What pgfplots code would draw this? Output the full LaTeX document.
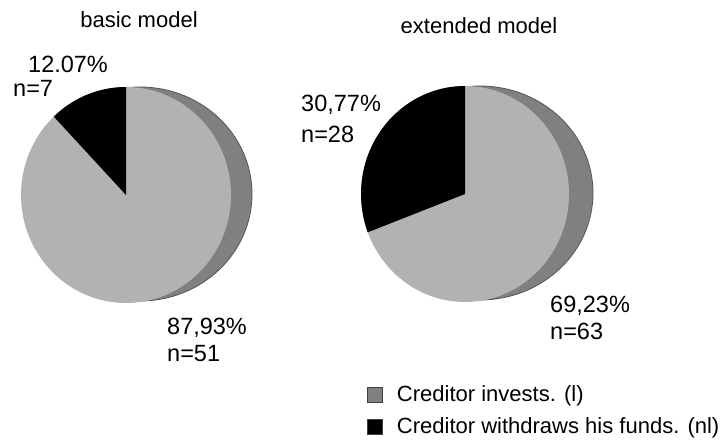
\documentclass[border=0pt]{standalone}
\usepackage{pgfplots}
\pgfplotsset{compat=1.18}
\usepackage{fontspec}
\setmainfont{Liberation Sans}

\definecolor{face}{RGB}{178,178,178}
\definecolor{side}{RGB}{128,128,128}
\definecolor{sideedge}{RGB}{85,85,85}

% counts: withdraws (nl), invests (l)
\def\basicNL{7}   \def\basicL{51}
\def\extNL{28}    \def\extL{63}

\begin{document}
\fontsize{22bp}{26bp}\selectfont
\begin{tikzpicture}
\pgfmathsetmacro\angA{90+360*\basicNL/(\basicNL+\basicL)}
\pgfmathsetmacro\angB{90+360*\extNL/(\extNL+\extL)}
\begin{axis}[
  name=ax,
  scale only axis, width=723bp, height=441bp,
  xmin=0, xmax=723, ymin=0, ymax=441,
  hide axis, clip=false,
  legend style={at={(axis cs:367,58)}, anchor=north west, draw=none, fill=none,
    inner sep=0pt, row sep=9bp, font=\fontsize{22bp}{26bp}\selectfont,
    cells={anchor=west},
    /tikz/every odd column/.append style={column sep=12bp}},
  legend image code/.code={\draw[#1, draw=black!75, line width=0.8bp] (0bp,-7.5bp) rectangle (15bp,7.5bp);},
]
\addlegendimage{fill=side}
\addlegendentry{Creditor invests. (l)}
\addlegendimage{fill=black}
\addlegendentry{Creditor withdraws his funds. (nl)}

% basic model
\fill[side, draw=sideedge, line width=0.8bp] (axis cs:140,247) ellipse[x radius=112bp, y radius=107bp];
\fill[face] (axis cs:126,246) ellipse[x radius=105bp, y radius=108bp];
\fill[black] (axis cs:126,246) -- ++(0bp,108bp) arc[start angle=90, end angle=\angA, x radius=105bp, y radius=108bp] -- cycle;

% extended model
\fill[side, draw=sideedge, line width=0.8bp] (axis cs:480,248) ellipse[x radius=113bp, y radius=107bp];
\fill[face] (axis cs:465,247) ellipse[x radius=104bp, y radius=108bp];
\fill[black] (axis cs:465,247) -- ++(0bp,108bp) arc[start angle=90, end angle=\angB, x radius=104bp, y radius=108bp] -- cycle;

\node[anchor=base, inner sep=0pt] at (axis cs:139,413) {basic model};
\node[anchor=base, inner sep=0pt] at (axis cs:479,407) {extended model};

\begin{scope}[every node/.style={anchor=base west, inner sep=0pt, font=\fontsize{23.5bp}{27bp}\selectfont}]
\node at (axis cs:28,368) {12.07\%};
\node at (axis cs:13,344) {n=7};
\node at (axis cs:167,106) {87,93\%};
\node at (axis cs:167,79) {n=51};
\node at (axis cs:301,329) {30,77\%};
\node at (axis cs:301,298) {n=28};
\node at (axis cs:550,128) {69,23\%};
\node at (axis cs:550,101) {n=63};
\end{scope}
\end{axis}
\pgfresetboundingbox
\path (ax.south west) rectangle (ax.north east);
\end{tikzpicture}
\end{document}
